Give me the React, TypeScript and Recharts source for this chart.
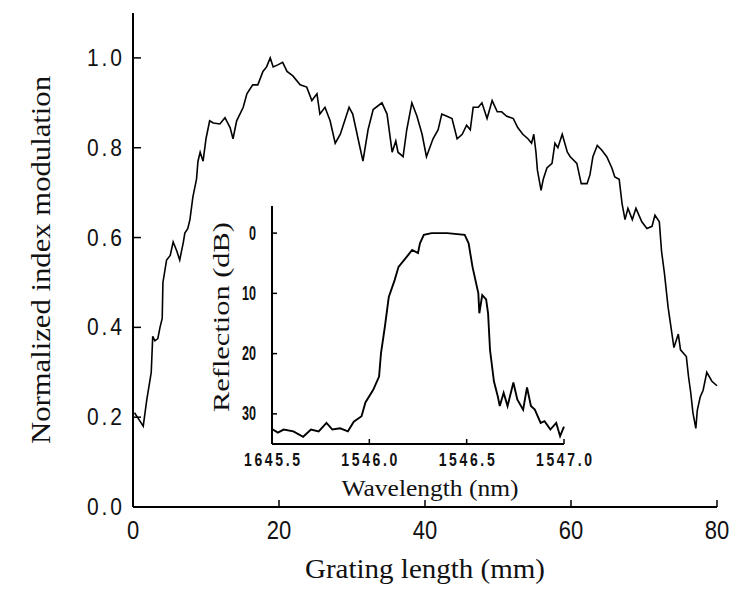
import React from "react"
import { LineChart, Line, XAxis, YAxis } from "recharts"

// main curve: normalized index modulation vs grating length (mm)
const gratingLength = [
  0.2, 0.6, 1.0, 1.4, 1.9, 2.3, 2.5, 2.7, 3.0, 3.4, 3.7, 4.0, 4.1, 4.6, 5.1, 5.5, 6.0, 6.4, 6.9, 7.1,
  7.5, 7.8, 8.2, 8.7, 8.9, 9.2, 9.6, 10.0, 10.5, 11.0, 11.9, 12.6, 13.3, 13.7, 14.2, 15.1, 15.6, 16.4,
  17.1, 17.8, 18.3, 18.8, 19.2, 19.9, 20.5, 21.1, 21.9, 22.9, 23.8, 24.5, 25.2, 25.6, 26.3, 27.0, 27.7,
  28.4, 29.0, 29.6, 30.1, 30.7, 31.1, 31.5, 32.2, 32.9, 34.1, 34.8, 35.5, 36.0, 36.3, 37.0, 37.5, 38.2,
  38.9, 39.6, 40.2, 41.1, 41.8, 42.3, 43.0, 43.7, 44.4, 45.1, 45.7, 46.2, 46.6, 47.3, 47.8, 48.5, 49.2,
  49.9, 50.5, 51.2, 52.1, 52.7, 53.4, 54.1, 54.6, 54.9, 55.2, 55.4, 55.9, 56.2, 56.7, 57.4, 57.8, 58.2,
  58.8, 59.5, 59.9, 60.8, 61.4, 62.2, 62.6, 63.0, 63.6, 64.2, 64.9, 65.6, 66.0, 66.6, 67.0, 67.4, 67.8,
  68.4, 68.9, 69.7, 70.4, 71.1, 71.5, 72.1, 72.4, 72.8, 73.3, 73.7, 74.1, 74.7, 75.0, 75.8, 76.1, 76.4,
  76.7, 77.1, 77.3, 77.7, 78.1, 78.6, 79.3, 80.0,
]
const indexModulation = [
  0.21, 0.2, 0.19, 0.18, 0.24, 0.28, 0.3, 0.38, 0.37, 0.375, 0.4, 0.42, 0.5, 0.55, 0.56, 0.59, 0.57, 0.55, 0.59, 0.61,
  0.62, 0.64, 0.69, 0.73, 0.77, 0.79, 0.77, 0.82, 0.86, 0.855, 0.853, 0.867, 0.845, 0.82, 0.86, 0.89, 0.92, 0.94,
  0.94, 0.97, 0.98, 1.0, 0.98, 0.985, 0.99, 0.97, 0.96, 0.94, 0.935, 0.905, 0.92, 0.875, 0.89, 0.86, 0.81,
  0.83, 0.86, 0.89, 0.875, 0.83, 0.8, 0.77, 0.84, 0.885, 0.9, 0.875, 0.79, 0.815, 0.79, 0.78, 0.84, 0.9,
  0.87, 0.83, 0.78, 0.82, 0.84, 0.875, 0.87, 0.865, 0.82, 0.83, 0.85, 0.84, 0.89, 0.89, 0.9, 0.865, 0.905,
  0.88, 0.88, 0.87, 0.865, 0.845, 0.83, 0.82, 0.81, 0.83, 0.79, 0.75, 0.705, 0.73, 0.755, 0.765, 0.81, 0.8,
  0.83, 0.79, 0.78, 0.765, 0.72, 0.72, 0.74, 0.78, 0.805, 0.795, 0.78, 0.755, 0.735, 0.73, 0.675, 0.64, 0.665,
  0.64, 0.665, 0.635, 0.62, 0.625, 0.65, 0.635, 0.57, 0.52, 0.445, 0.4, 0.355, 0.385, 0.35, 0.335, 0.29, 0.255,
  0.21, 0.175, 0.215, 0.245, 0.26, 0.3, 0.28, 0.27,
]
const mainXTicks = [0, 20, 40, 60, 80]
const mainYTicks = [0, 0.2, 0.4, 0.6, 0.8, 1.0]

// inset: reflection spectrum
const wavelength = [
  1545.5, 1545.53, 1545.56, 1545.61, 1545.66, 1545.7, 1545.74, 1545.78, 1545.81, 1545.85, 1545.89, 1545.92,
  1545.96, 1545.98, 1546.02, 1546.05, 1546.06, 1546.08, 1546.1, 1546.13, 1546.15, 1546.2, 1546.22, 1546.25,
  1546.26, 1546.28, 1546.32, 1546.4, 1546.49, 1546.51, 1546.53, 1546.56, 1546.565, 1546.58, 1546.6, 1546.61,
  1546.62, 1546.64, 1546.66, 1546.67, 1546.69, 1546.71, 1546.74, 1546.76, 1546.79, 1546.81, 1546.83, 1546.85,
  1546.88, 1546.9, 1546.93, 1546.96, 1546.98, 1547.0,
]
const reflection = [
  32.5, 33.1, 32.6, 32.9, 33.8, 32.6, 32.9, 31.5, 32.6, 32.4, 32.9, 31.3,
  30.4, 28.1, 26, 23.8, 19.9, 15.5, 10.6, 7.8, 5.6, 3.6, 2.8, 3.3,
  1.7, 0.3, 0, 0, 0.3, 1.7, 5.6, 10, 13.3, 10.3, 11, 13.3,
  19.4, 24.6, 27.1, 28.7, 26.5, 28.7, 24.8, 27.6, 29.3, 25.6, 28.7, 29.3,
  31.5, 31.2, 32.6, 31.5, 33.7, 32.1,
]
const insetXTicks = [1545.5, 1546.0, 1546.5, 1547.0]
const insetXTickLabels = ["1645.5", "1546.0", "1546.5", "1547.0"]
const insetYTicks = [0, 10, 20, 30]

const mainData = gratingLength.map((x, i) => ({ x, y: indexModulation[i] }))
const insetData = wavelength.map((x, i) => ({ x, y: reflection[i] }))

const SANS = "Liberation Sans, Arial, sans-serif"
const SERIF = "Liberation Serif, Times New Roman, serif"

function MainYTick(props: any) {
  const { x, y, payload } = props
  return (
    <text transform={`translate(${x},${y}) scale(1,1.15)`} textAnchor="end" dominantBaseline="central"
      fontSize={21} fontFamily={SANS} fill="#111" textLength={35} lengthAdjust="spacing">
      {Number(payload.value).toFixed(1)}
    </text>
  )
}

function MainXTick(props: any) {
  const { x, y, payload } = props
  return (
    <text transform={`translate(${x},${y}) scale(1,1.15)`} textAnchor="middle" dominantBaseline="hanging"
      fontSize={22} fontFamily={SANS} fill="#111">
      {payload.value}
    </text>
  )
}

function InsetYTick(props: any) {
  const { x, y, payload } = props
  return (
    <text transform={`translate(${x},${y}) scale(0.9,1.45)`} textAnchor="end" dominantBaseline="central"
      fontSize={14} fontWeight="bold" fontFamily={SANS} fill="#111">
      {payload.value}
    </text>
  )
}

function InsetXTick(props: any) {
  const { x, y, payload } = props
  const label = insetXTickLabels[insetXTicks.indexOf(payload.value)] ?? String(payload.value)
  return (
    <text transform={`translate(${x},${y}) scale(1,1.3)`} textAnchor="middle" dominantBaseline="hanging"
      fontSize={14} fontWeight="bold" fontFamily={SANS} fill="#111" textLength={56} lengthAdjust="spacing">
      {label}
    </text>
  )
}

function VerticalTitle(props: any) {
  const { viewBox, text, dx, dy = 0, size, length } = props
  const cx = viewBox.x + dx
  const cy = viewBox.y + viewBox.height / 2 + dy
  return (
    <text transform={`translate(${cx},${cy}) rotate(-90)`} textAnchor="middle" dominantBaseline="central"
      fontSize={size} fontFamily={SERIF} fill="#111" textLength={length} lengthAdjust="spacingAndGlyphs">
      {text}
    </text>
  )
}

function HorizontalTitle(props: any) {
  const { viewBox, text, dx = 0, dy, size, length } = props
  const cx = viewBox.x + viewBox.width / 2 + dx
  const cy = viewBox.y + dy
  return (
    <text x={cx} y={cy} textAnchor="middle" dominantBaseline="central"
      fontSize={size} fontFamily={SERIF} fill="#111" textLength={length} lengthAdjust="spacingAndGlyphs">
      {text}
    </text>
  )
}

export default function App() {
  return (
    <div style={{ position: "absolute", left: 0, top: 0, width: 733, height: 603, background: "#fff" }}>
      <LineChart width={733} height={603} data={mainData} margin={{ top: 13, right: 16, bottom: 66, left: 73 }}>
        <XAxis dataKey="x" type="number" domain={[0, 80]} ticks={mainXTicks} height={30}
          axisLine={{ stroke: "#000", strokeWidth: 2 }} tickLine={{ stroke: "#000", strokeWidth: 1.5 }}
          tickSize={-7} tickMargin={21} tick={<MainXTick />}
          label={<HorizontalTitle text="Grating length (mm)" dy={61} size={28} length={240} />} />
        <XAxis xAxisId="top" orientation="top" type="number" domain={[0, 80]} height={0}
          tick={false} tickLine={false} axisLine={{ stroke: "#000", strokeWidth: 1.5 }} />
        <YAxis type="number" domain={[0, 1.1]} ticks={mainYTicks} width={60} allowDataOverflow
          axisLine={{ stroke: "#000", strokeWidth: 2 }} tickLine={{ stroke: "#000", strokeWidth: 1.5 }}
          tickSize={-8} tickMargin={19} tick={<MainYTick />}
          label={<VerticalTitle text="Normalized index modulation" dx={-33} size={28} length={368} />} />
        <YAxis yAxisId="right" orientation="right" type="number" domain={[0, 1.1]} width={0}
          tick={false} tickLine={false} axisLine={{ stroke: "#000", strokeWidth: 2.5 }} />
        <Line type="linear" dataKey="y" stroke="#000" strokeWidth={1.6} dot={false} isAnimationActive={false} />
      </LineChart>

      <div style={{ position: "absolute", left: 180, top: 190 }}>
        <LineChart width={440} height={320} data={insetData} margin={{ top: 16, right: 56, bottom: 36, left: 42 }}>
          <XAxis dataKey="x" type="number" domain={[1545.5, 1547.0]} ticks={insetXTicks} height={30}
            axisLine={{ stroke: "#000", strokeWidth: 2 }} tickLine={{ stroke: "#000", strokeWidth: 1.5 }}
            tickSize={-5} tickMargin={14} tick={<InsetXTick />}
            label={<HorizontalTitle text="Wavelength (nm)" dx={12} dy={44} size={24} length={177} />} />
          <XAxis xAxisId="top" orientation="top" type="number" domain={[1545.5, 1547.0]} height={0}
            tick={false} tickLine={false} axisLine={{ stroke: "#000", strokeWidth: 2 }} />
          <YAxis type="number" domain={[-4.5, 35]} reversed ticks={insetYTicks} width={50} allowDataOverflow
            axisLine={{ stroke: "#000", strokeWidth: 2 }} tickLine={{ stroke: "#000", strokeWidth: 1.5 }}
            tickSize={-5} tickMargin={21} tick={<InsetYTick />}
            label={<VerticalTitle text="Reflection (dB)" dx={-1} dy={-8} size={23} length={190} />} />
          <YAxis yAxisId="right" orientation="right" type="number" domain={[-4.5, 35]} width={0}
            tick={false} tickLine={false} axisLine={{ stroke: "#000", strokeWidth: 1.3 }} />
          <Line type="linear" dataKey="y" stroke="#000" strokeWidth={1.9} dot={false} isAnimationActive={false} />
        </LineChart>
      </div>
    </div>
  )
}
